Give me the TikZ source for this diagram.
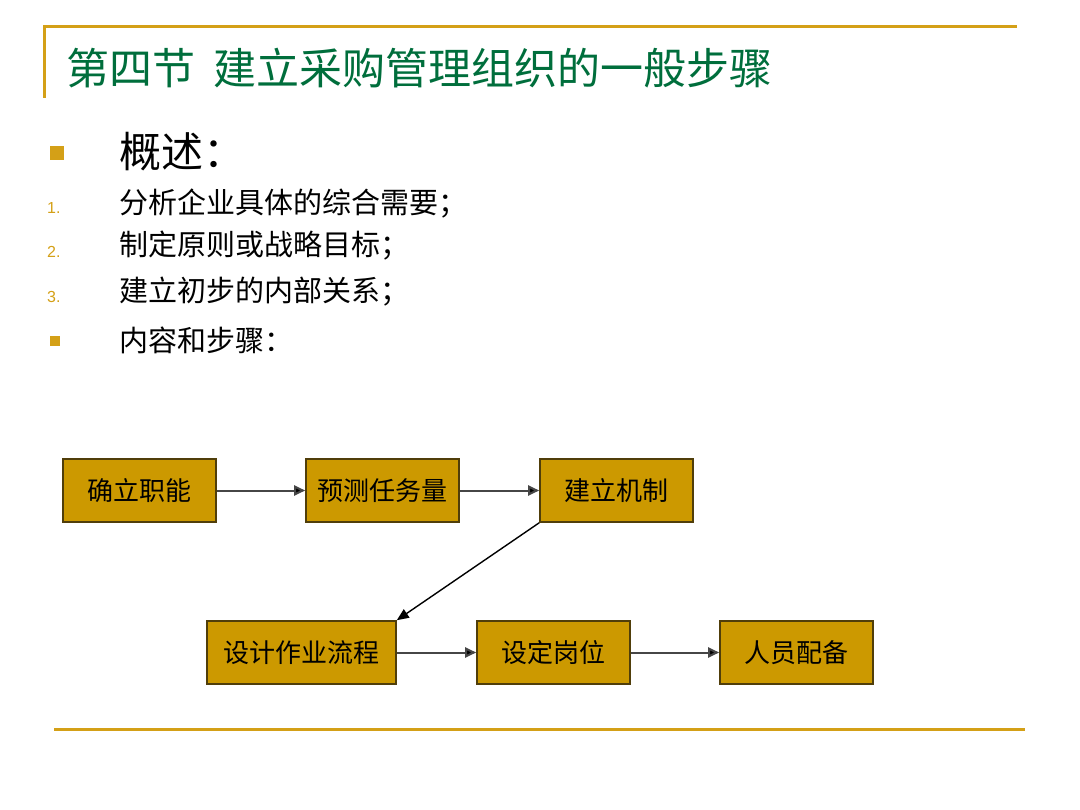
\documentclass[tikz,border=0pt]{standalone}
\usepackage{fontspec}
\setmainfont{Liberation Sans}
\newfontfamily\cjk{Noto Sans CJK SC}
\usetikzlibrary{arrows.meta}
\definecolor{gold}{RGB}{212,160,23}
\definecolor{boxfill}{RGB}{204,153,0}
\definecolor{boxline}{RGB}{80,62,10}
\definecolor{titlegreen}{RGB}{0,110,60}
\definecolor{arrowgray}{RGB}{70,70,70}
\tikzset{
  stepbox/.style={draw=boxline, line width=1.6pt, fill=boxfill, minimum width=153pt, minimum height=63pt, inner sep=0pt, font=\cjk\fontsize{26}{26}\selectfont, text=black},
  widebox/.style={stepbox, minimum width=189pt},
  flow/.style={draw=arrowgray, line width=2pt, -{Triangle[length=11pt,width=10pt,fill=black]}},
  thinflow/.style={draw=black, line width=1.4pt, -{Triangle[length=12pt,width=10pt,fill=black]}},
  goldrule/.style={draw=gold, line width=3pt},
  listtext/.style={anchor=west, inner sep=0pt, font=\cjk\fontsize{29}{29}\selectfont, text=black},
  numlabel/.style={anchor=west, inner sep=0pt, font=\fontsize{16}{16}\selectfont, text=gold}
}
\begin{document}
\begin{tikzpicture}[x=1pt,y=-1pt]
\useasboundingbox (0,0) rectangle (1080,810);
% frame rules
\coordinate (tl) at (44,27);
\coordinate (tr) at (1017,27);
\coordinate (vl) at (44,98);
\draw[goldrule] (tr) -- (tl) -- (vl);
\coordinate (bl) at (54,729);
\coordinate (br) at (1025,729);
\draw[goldrule] (bl) -- (br);
% title
\node[anchor=west, inner sep=0pt, text=titlegreen, font=\cjk\fontsize{43}{43}\selectfont] (title) at (66,68) {第四节\hspace{18pt}建立采购管理组织的一般步骤};
% bullets and list
\fill[gold] (50,146) rectangle (64,160);
\node[anchor=west, inner sep=0pt, font=\cjk\fontsize{42}{42}\selectfont] (overview) at (119,152) {概述：};
\node[numlabel] (n1) at (47,208) {1.};
\node[listtext] (l1) at (119,204) {分析企业具体的综合需要；};
\node[numlabel] (n2) at (47,252) {2.};
\node[listtext] (l2) at (119,246) {制定原则或战略目标；};
\node[numlabel] (n3) at (47,297) {3.};
\node[listtext] (l3) at (119,292) {建立初步的内部关系；};
\fill[gold] (50,336) rectangle (60,346);
\node[listtext] (l4) at (119,340) {内容和步骤：};
% flow chart
\node[stepbox] (b1) at (139.5,490.5) {确立职能};
\node[stepbox] (b2) at (382.5,490.5) {预测任务量};
\node[stepbox] (b3) at (616.5,490.5) {建立机制};
\node[widebox] (b4) at (301.5,652.5) {设计作业流程};
\node[stepbox] (b5) at (553.5,652.5) {设定岗位};
\node[stepbox] (b6) at (796.5,652.5) {人员配备};
\draw[flow] (b1.east) -- (b2.west);
\draw[flow] (b2.east) -- (b3.west);
\draw[thinflow] (b3.south west) -- (b4.north east);
\draw[flow] (b4.east) -- (b5.west);
\draw[flow] (b5.east) -- (b6.west);
\end{tikzpicture}
\end{document}
